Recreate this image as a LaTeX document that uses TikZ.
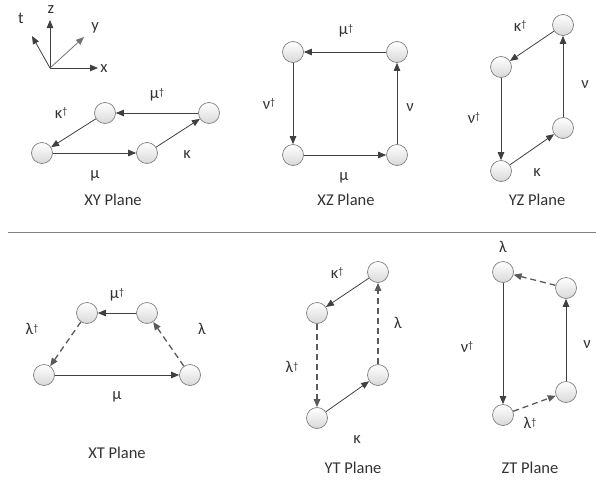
\documentclass[tikz,border=0pt]{standalone}
\usepackage{fontspec}
\setmainfont{Carlito}
\usetikzlibrary{arrows.meta}
\definecolor{planeLine}{RGB}{64,64,64}
\definecolor{planeDash}{RGB}{90,90,90}
\definecolor{planeText}{RGB}{50,50,50}
\newcommand{\dg}{\raisebox{0.45ex}{\fontsize{10}{10}\selectfont †}}

\begin{document}
\begin{tikzpicture}[x=1pt, y=-1pt,
    site/.style={circle, draw=black!50, line width=0.7pt, minimum size=21pt, inner sep=0pt,
                 top color=white, bottom color=black!15},
    hop/.style={draw=planeLine, line width=0.8pt, -{Triangle[length=8pt,width=6.5pt]}},
    jump/.style={hop, draw=planeDash, line width=1.3pt, dash pattern=on 6pt off 4pt},
    lbl/.style={font=\fontsize{16.5}{18}\selectfont, text=planeText, inner sep=1pt},
    ax/.style={draw=planeLine, line width=0.8pt, -{Triangle[length=8pt,width=6.5pt]}}
  ]
  \useasboundingbox (0,0) rectangle (596,479);

  % axes
  \coordinate (o) at (50,68);
  \coordinate (ax) at (98,68);
  \coordinate (az) at (50,20);
  \coordinate (ay) at (84,37);
  \coordinate (at) at (32,36);
  \draw[ax] (o) -- (ax);
  \draw[ax] (o) -- (az);
  \draw[ax, draw=black!55] (o) -- (ay);
  \draw[ax] (o) -- (at);
  \node[lbl] (lx) at (104,69) {x};
  \node[lbl] (lz) at (51,10) {z};
  \node[lbl] (ly) at (95,28) {y};
  \node[lbl] (lt) at (21,18) {t};

  % XY plane
  \node[site] (xy1) at (42,153) {};
  \node[site] (xy2) at (147,153) {};
  \node[site] (xy3) at (209,113) {};
  \node[site] (xy4) at (105,113) {};
  \draw[hop] (xy1) -- (xy2);
  \draw[hop] (xy2) -- (xy3);
  \draw[hop] (xy3) -- (xy4);
  \draw[hop] (xy4) -- (xy1);
  \node[lbl] (xyA) at (95,176) {μ};
  \node[lbl] (xyB) at (187,155) {κ};
  \node[lbl] (xyC) at (157,95) {μ\dg};
  \node[lbl] (xyD) at (61,113) {κ\dg};
  \node[lbl] (xyN) at (113,200) {XY Plane};

  % XZ plane
  \node[site] (xz1) at (293,155) {};
  \node[site] (xz2) at (397,155) {};
  \node[site] (xz3) at (397,52) {};
  \node[site] (xz4) at (293,52) {};
  \draw[hop] (xz1) -- (xz2);
  \draw[hop] (xz2) -- (xz3);
  \draw[hop] (xz3) -- (xz4);
  \draw[hop] (xz4) -- (xz1);
  \node[lbl] (xzA) at (344,178) {μ};
  \node[lbl] (xzB) at (410,108) {ν};
  \node[lbl] (xzC) at (346,31) {μ\dg};
  \node[lbl] (xzD) at (269,104) {ν\dg};
  \node[lbl] (xzN) at (346,200) {XZ Plane};

  % YZ plane
  \node[site] (yz1) at (501,171) {};
  \node[site] (yz2) at (563,128) {};
  \node[site] (yz3) at (563,25) {};
  \node[site] (yz4) at (501,67) {};
  \draw[hop] (yz1) -- (yz2);
  \draw[hop] (yz2) -- (yz3);
  \draw[hop] (yz3) -- (yz4);
  \draw[hop] (yz4) -- (yz1);
  \node[lbl] (yzA) at (537,173) {κ};
  \node[lbl] (yzB) at (585,85) {ν};
  \node[lbl] (yzC) at (520,26) {κ\dg};
  \node[lbl] (yzD) at (474,118) {ν\dg};
  \node[lbl] (yzN) at (537,200) {YZ Plane};

  % separator
  \coordinate (sepL) at (8,232);
  \coordinate (sepR) at (596,232);
  \draw[black!50, line width=1pt] (sepL) -- (sepR);

  % XT plane
  \node[site] (xt1) at (44,375) {};
  \node[site] (xt2) at (190,375) {};
  \node[site] (xt3) at (147,313) {};
  \node[site] (xt4) at (87,313) {};
  \draw[hop] (xt1) -- (xt2);
  \draw[jump] (xt2) -- (xt3);
  \draw[hop] (xt3) -- (xt4);
  \draw[jump] (xt4) -- (xt1);
  \node[lbl] (xtA) at (117,397) {μ};
  \node[lbl] (xtB) at (202,329) {λ};
  \node[lbl] (xtC) at (117,295) {μ\dg};
  \node[lbl] (xtD) at (32,329) {λ\dg};
  \node[lbl] (xtN) at (117,453) {XT Plane};

  % YT plane
  \node[site] (yt1) at (317,418) {};
  \node[site] (yt2) at (378,375) {};
  \node[site] (yt3) at (378,272) {};
  \node[site] (yt4) at (317,313) {};
  \draw[hop] (yt1) -- (yt2);
  \draw[jump] (yt2) -- (yt3);
  \draw[hop] (yt3) -- (yt4);
  \draw[jump] (yt4) -- (yt1);
  \node[lbl] (ytA) at (357,440) {κ};
  \node[lbl] (ytB) at (398,323) {λ};
  \node[lbl] (ytC) at (337,273) {κ\dg};
  \node[lbl] (ytD) at (292,367) {λ\dg};
  \node[lbl] (ytN) at (353,468) {YT Plane};

  % ZT plane
  \node[site] (zt1) at (503,415) {};
  \node[site] (zt2) at (566,392) {};
  \node[site] (zt3) at (566,288) {};
  \node[site] (zt4) at (503,272) {};
  \draw[jump] (zt1) -- (zt2);
  \draw[hop] (zt2) -- (zt3);
  \draw[jump] (zt3) -- (zt4);
  \draw[hop] (zt4) -- (zt1);
  \node[lbl] (ztA) at (530,423) {λ\dg};
  \node[lbl] (ztB) at (587,345) {ν};
  \node[lbl] (ztC) at (503,247) {λ};
  \node[lbl] (ztD) at (467,347) {ν\dg};
  \node[lbl] (ztN) at (530,468) {ZT Plane};
\end{tikzpicture}
\end{document}
